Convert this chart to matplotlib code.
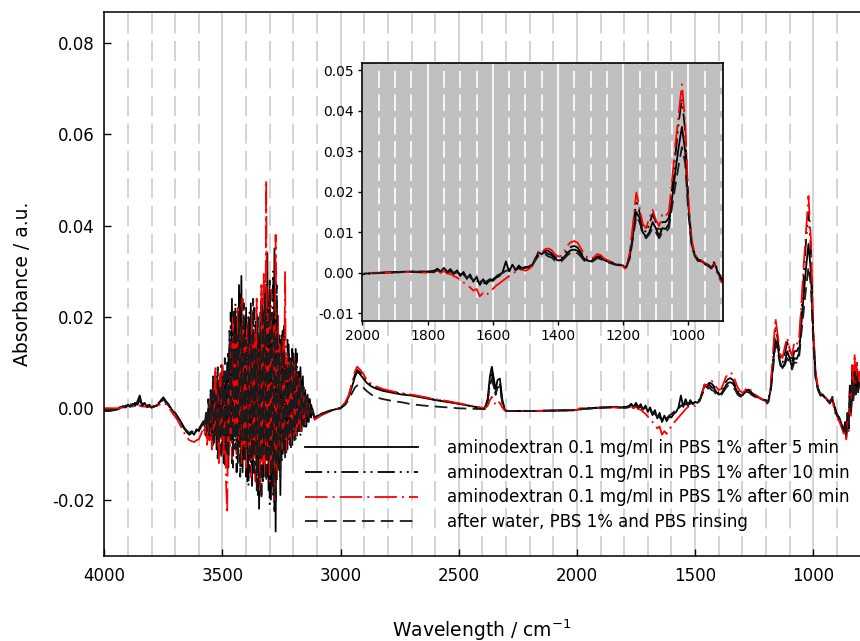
import matplotlib
matplotlib.use("Agg")
import matplotlib.pyplot as plt
from matplotlib.ticker import MultipleLocator, FormatStrFormatter
import numpy as np

plt.rcParams['font.family'] = 'DejaVu Sans'
plt.rcParams['axes.unicode_minus'] = False
plt.rcParams['mathtext.default'] = 'regular'

# ---- data (absorbance in units of 1e-3) ----
labels = ["aminodextran 0.1 mg/ml in PBS 1% after 5 min",
          "aminodextran 0.1 mg/ml in PBS 1% after 10 min",
          "aminodextran 0.1 mg/ml in PBS 1% after 60 min",
          "after water, PBS 1% and PBS rinsing"]

# 4000-3580 cm-1, every 10 cm-1
wn_a = np.arange(4000, 3579, -10)
a_5 = [-0.5, -0.5, -0.5, -0.5, -0.4, -0.3, -0.2, 0.2, 0.5, 0.3,
       0.8, 0.4, 1.0, 0.5, 1.5, 2.8, 0.6, 1.2, 0.3, 0.8,
       0.2, 0.5, 0.6, 1.0, 1.8, 2.4, 1.6, 1.0, 0.2, -0.6,
       -1.0, -1.8, -2.6, -3.5, -4.4, -5.0, -5.6, -5.2, -5.8, -4.6,
       -5.0, -4.0, -3.2]
a_10 = [-0.4, -0.4, -0.4, -0.4, -0.3, -0.2, 0.0, 0.4, 0.2, 0.6,
        0.3, 0.9, 0.2, 1.2, 0.8, 1.8, 0.9, 0.5, 1.0, 0.2,
        0.4, 0.3, 0.8, 1.2, 1.6, 2.0, 1.4, 0.8, 0.0, -0.8,
        -1.2, -2.0, -2.8, -3.8, -4.6, -5.3, -5.8, -5.4, -5.6, -5.0,
        -4.6, -3.8, -3.0]
a_60 = [0.0, 0.0, 0.0, 0.0, 0.0, 0.0, 0.0, 0.1, 0.2, 0.2,
        0.3, 0.3, 0.4, 0.3, 0.5, 0.6, 0.4, 0.4, 0.3, 0.3,
        0.3, 0.4, 0.5, 0.7, 1.0, 1.2, 0.9, 0.4, -0.4, -1.2,
        -1.8, -2.6, -3.6, -4.6, -5.6, -6.4, -7.0, -7.2, -7.4, -7.0,
        -6.8, -5.6, -4.2]
a_rin = [-0.6, -0.6, -0.6, -0.5, -0.4, -0.3, -0.1, 0.1, 0.4, 0.2,
         0.6, 0.3, 0.8, 0.4, 1.2, 2.0, 0.5, 0.9, 0.2, 0.6,
         0.1, 0.4, 0.5, 0.8, 1.4, 2.0, 1.3, 0.8, 0.0, -0.7,
         -1.1, -1.9, -2.7, -3.6, -4.4, -5.0, -5.4, -5.0, -5.4, -4.8,
         -4.6, -3.6, -2.8]

# 3575-3120 cm-1 (noisy water vapour region), every 5 cm-1
wn_n = np.arange(3575, 3119, -5)
n_5 = [-4, -2, -6, 0, -5, 2, -7, 6, -3, 8,
       -9, 4, -10, 7, -4, 9, -12, 5, -8, 10,
       -13, 14, -6, 24, -10, 18, -4, 20, -12, 27,
       -8, 29, -14, 12, -6, 22, -16, 17, -10, 23,
       -17, 15, -8, 19, -12, 14, -22, 21, -9, 24,
       -15, 18, -11, 34, -18, 26, -20, 12, -14, 35,
       -27, 22, -12, 16, -19, 13, -10, 18, -8, 11,
       -9, 14, -6, 9, -8, 12, -5, 13, -6, 8,
       -4, 9, -5, 7, -3, 4, -4, 3, -3, 2,
       -2, 0]
n_10 = [-3, -6, -1, -7, 1, -6, 4, -8, 5, -5,
        7, -11, 6, -6, 10, -9, 8, -13, 6, -10,
        12, -8, 21, -12, 16, -7, 23, -14, 19, -9,
        25, -13, 16, -11, 20, -15, 14, -17, 21, -12,
        18, -14, 22, -10, 17, -19, 15, -13, 26, -16,
        20, -12, 29, -15, 23, -21, 18, -17, 30, -23,
        25, -16, 20, -14, 15, -12, 17, -9, 12, -10,
        15, -7, 11, -9, 13, -6, 10, -7, 12, -5,
        8, -6, 6, -4, 5, -4, 3, -3, 2, -2,
        1, -1]
n_60 = [-6, -3, -8, -2, -7, 3, -9, 5, -6, 9,
        -4, 6, -12, 8, -7, 10, -10, 4, -16, -23,
        6, -9, 15, -11, 20, -5, 14, -10, 22, -7,
        18, -12, 24, -8, 16, -13, 19, -9, 14, -15,
        21, -11, 17, -16, 24, -10, 13, -18, 27, -12,
        30, -14, 50, -9, 22, -16, 26, -13, 18, -20,
        38, -15, 21, -11, 14, -9, 16, -7, 30, -10,
        12, -6, 10, -8, 9, -5, 11, -6, 8, -4,
        7, -5, 5, -3, 4, -3, 2, -2, 1, -1,
        0, -1]
n_rin = [-4, -1, -5, 2, -6, 4, -4, 7, -8, 3,
         -6, 9, -7, 5, -11, 7, -6, 11, -9, 8,
         -11, 17, -7, 13, -13, 22, -9, 16, -11, 21,
         -15, 18, -7, 23, -12, 15, -9, 20, -14, 16,
         -11, 24, -15, 13, -18, 20, -11, 16, -20, 22,
         -10, 25, -16, 19, -12, 28, -15, 21, -19, 17,
         -21, 27, -13, 12, -15, 16, -8, 13, -11, 10,
         -7, 12, -8, 11, -6, 9, -7, 10, -4, 7,
         -5, 6, -3, 5, -4, 3, -2, 2, -2, 1,
         -1, -1]

# 3110-2000 cm-1 (C-H stretch and CO2 band)
wn_b1 = [3110, 3080, 3050, 3020, 3000, 2980, 2965, 2950, 2940, 2930,
         2920, 2905, 2890, 2870, 2850, 2820, 2780, 2740, 2700, 2650,
         2600, 2550, 2500, 2450, 2410, 2390, 2378, 2368, 2360, 2352,
         2344, 2336, 2326, 2316, 2305, 2290, 2250, 2200, 2100, 2000]
b1_5 = [-2, -1.2, -0.6, -0.2, 0.0, 1.0, 2.6, 5.0, 6.8, 8.0,
        7.6, 6.6, 5.6, 4.8, 4.3, 3.8, 3.4, 3.0, 2.8, 2.3,
        1.8, 1.4, 1.0, 0.5, 0.1, 0.0, 2.0, 7.0, 9.1, 6.5,
        4.0, 6.2, 6.5, 2.0, -0.4, -0.6, -0.6, -0.6, -0.5, -0.4]
b1_10 = [-2, -1.2, -0.6, -0.2, 0.1, 1.2, 2.8, 5.5, 7.3, 8.4,
         8.0, 7.0, 5.9, 5.0, 4.5, 4.0, 3.6, 3.2, 2.9, 2.4,
         1.9, 1.5, 1.0, 0.5, 0.1, 0.0, 1.5, 5.5, 7.5, 5.0,
         3.0, 5.2, 5.5, 1.5, -0.4, -0.6, -0.6, -0.6, -0.5, -0.4]
b1_60 = [-2.5, -1.5, -0.8, -0.2, 0.1, 1.3, 3.0, 6.0, 8.0, 9.1,
         8.6, 7.6, 6.3, 5.3, 4.8, 4.2, 3.7, 3.3, 3.0, 2.5,
         2.0, 1.6, 1.1, 0.6, 0.2, 0.0, 0.5, 1.8, 2.5, 1.5,
         0.8, 1.5, 1.2, 0.2, -0.5, -0.6, -0.6, -0.6, -0.5, -0.4]
b1_rin = [-2, -1.2, -0.6, -0.2, 0.0, 0.8, 2.0, 3.5, 4.5, 5.0,
          5.2, 4.6, 3.8, 3.0, 2.4, 2.0, 1.6, 1.3, 0.9, 0.6,
          0.4, 0.2, 0.0, -0.1, -0.2, -0.2, 1.5, 5.0, 6.5, 4.8,
          3.0, 4.5, 4.8, 1.2, -0.5, -0.6, -0.6, -0.6, -0.5, -0.4]

# 1990-800 cm-1 (fingerprint region)
wn_b2 = [1990, 1950, 1900, 1850, 1800,
         1780, 1770, 1760, 1750, 1740, 1730, 1720, 1710, 1700,
         1690, 1680, 1670, 1660, 1650, 1640, 1630, 1620, 1610, 1600,
         1590, 1580, 1570, 1560, 1550, 1540, 1530, 1520, 1510, 1500,
         1490, 1480, 1470, 1460, 1450, 1440, 1430, 1420, 1410, 1400,
         1390, 1380, 1370, 1360, 1350, 1340, 1330, 1320, 1310, 1300,
         1290, 1280, 1270, 1260, 1250, 1240, 1230, 1220, 1210, 1200,
         1195, 1190,
         1180, 1170, 1160, 1150, 1140, 1130, 1120, 1110, 1100,
         1090, 1080, 1070, 1060, 1050, 1040, 1030, 1020, 1010, 1000,
         990, 980, 970, 960, 950, 940, 930, 920, 910, 900,
         890, 880, 870,
         865, 860, 855, 850, 845, 840, 835, 830, 825, 820, 815, 810, 805, 800]
b2_5 = [-0.2, 0.0, 0.2, 0.3, 0.2,
        0.5, 1.0, 0.3, 1.2, 0.2, 0.9, -0.3, 0.6, -0.8,
        0.2, -1.5, -0.4, -2.2, -1.0, -3.0, -1.6, -2.8, -1.8, -2.0,
        -1.2, -0.8, 0.2, 2.8, 0.3, 2.0, 0.6, 1.8, 0.9, 1.4,
        1.2, 1.8, 3.5, 5.0, 4.6, 5.2, 4.6, 4.4, 3.6, 3.0,
        3.2, 4.0, 5.0, 5.6, 5.7, 5.4, 4.6, 3.5, 3.0, 2.8,
        3.4, 4.0, 3.8, 3.2, 2.8, 2.6, 2.3, 2.0, 1.9, 1.8,
        1.2, 1.6,
        4.0, 9.5, 15.0, 13.5, 10.0, 8.8, 10.0, 12.5, 11.0,
        9.0, 11.0, 10.8, 12.0, 18.5, 25.0, 31.0, 36.0, 30.0, 16.0,
        7.0, 4.2, 3.0, 2.8, 2.3, 1.9, 1.2, 2.4, 0.2, -1.5,
        -2.0, -3.5, -4.8,
        -3.0, -6.2, -1.5, -4.5, 4.0, -1.0, 7.0, 2.0, 9.0, 3.5, 7.5, 4.0, 6.5, 5.0]
b2_10 = [-0.3, 0.0, 0.1, 0.3, 0.3,
         0.3, 0.8, 0.1, 0.9, 0.4, 0.5, 0.0, 0.3, -0.4,
         -0.3, -1.0, -1.2, -1.8, -2.0, -2.4, -2.6, -2.4, -2.0, -1.6,
         -1.0, -0.5, 0.0, 0.6, 0.8, 1.0, 1.0, 1.2, 1.2, 1.4,
         1.5, 2.0, 3.5, 5.2, 5.0, 5.6, 5.4, 4.8, 3.9, 3.4,
         3.5, 4.6, 5.8, 6.4, 6.6, 6.2, 5.0, 3.8, 3.2, 3.0,
         3.6, 4.2, 4.0, 3.4, 3.0, 2.7, 2.4, 2.1, 2.0, 1.9,
         1.4, 1.7,
         4.5, 11.0, 18.0, 15.0, 11.0, 10.0, 12.0, 14.5, 12.5,
         10.0, 12.5, 12.5, 13.5, 21.0, 29.0, 37.0, 43.0, 35.0, 17.0,
         7.5, 4.5, 3.2, 3.0, 2.4, 2.0, 1.4, 2.8, 0.4, -1.2,
         -2.2, -3.8, -5.5,
         -3.5, -6.0, -2.0, -4.0, 5.0, -0.5, 8.0, 2.5, 10.0, 4.0, 8.5, 4.5, 7.0, 5.5]
b2_60 = [0.0, 0.0, 0.1, 0.2, 0.0,
         0.1, 0.3, 0.0, 0.4, -0.2, -0.3, -0.8, -1.2, -1.8,
         -2.4, -3.0, -3.6, -4.4, -4.0, -5.8, -5.0, -5.6, -4.6, -4.0,
         -3.2, -2.6, -2.0, -1.4, -0.8, -0.2, 0.3, 0.6, 0.8, 0.5,
         0.9, 1.6, 3.2, 5.2, 5.0, 5.8, 6.0, 5.6, 4.6, 4.0,
         4.2, 5.4, 6.8, 7.6, 7.8, 7.4, 6.0, 4.6, 3.8, 3.4,
         3.8, 4.6, 4.4, 3.6, 3.2, 2.8, 2.4, 2.0, 1.8, 1.6,
         1.0, 1.3,
         5.0, 12.0, 19.8, 16.0, 12.0, 11.0, 13.5, 15.5, 13.0,
         11.5, 14.5, 14.0, 15.0, 23.0, 31.5, 39.0, 46.5, 37.0, 17.5,
         8.0, 4.6, 3.4, 3.0, 2.4, 1.8, 1.0, 2.2, -0.6, -2.2,
         -2.8, -4.2, -5.6,
         -4.0, -6.8, -3.0, -5.0, 3.5, -2.0, 9.5, 4.0, 12.0, 5.0, 10.0, 6.0, 8.0, 3.5]
b2_rin = [-0.2, -0.1, 0.1, 0.2, 0.1,
          0.2, 0.6, 0.2, 0.5, 0.1, 0.3, -0.2, 0.1, -0.5,
          -0.6, -1.2, -1.0, -1.8, -1.6, -2.2, -2.0, -2.2, -1.6, -1.3,
          -0.8, -0.4, 0.0, 0.5, 0.6, 0.9, 0.8, 1.0, 1.0, 1.2,
          1.2, 1.8, 3.0, 4.2, 4.0, 4.6, 4.0, 3.8, 3.0, 2.6,
          2.8, 3.6, 4.4, 5.0, 5.1, 4.8, 4.0, 3.0, 2.6, 2.5,
          3.0, 3.6, 3.4, 2.9, 2.6, 2.4, 2.1, 1.9, 1.8, 1.7,
          1.2, 1.5,
          3.5, 8.5, 14.0, 12.5, 9.5, 8.5, 9.5, 11.0, 10.0,
          8.5, 10.0, 10.0, 11.0, 16.5, 21.5, 26.5, 31.0, 27.0, 14.5,
          6.5, 4.0, 2.8, 2.6, 2.1, 1.7, 1.1, 2.0, 0.0, -1.6,
          -2.2, -3.6, -5.0,
          -3.2, -5.5, -1.0, -3.8, 3.0, -1.5, 6.0, 1.5, 8.0, 3.0, 7.0, 3.5, 6.0, 4.5]

wn = np.concatenate([wn_a, wn_n, wn_b1, wn_b2])
spectra = [np.concatenate([a_5, n_5, b1_5, b2_5]) * 1e-3,
           np.concatenate([a_10, n_10, b1_10, b2_10]) * 1e-3,
           np.concatenate([a_60, n_60, b1_60, b2_60]) * 1e-3,
           np.concatenate([a_rin, n_rin, b1_rin, b2_rin]) * 1e-3]

# dash patterns are scaled by the line width (1.3)
styles = [dict(color='black', ls='-'),
          dict(color='black', dashes=(9.5, 2.8, 1.1, 2.8, 1.1, 2.8)),
          dict(color='red', dashes=(12.5, 2.8, 1.1, 2.8)),
          dict(color='#1a1a1a', dashes=(7, 3.5))]

# ---- figure ----
fig = plt.figure(figsize=(8.6, 6.41), dpi=100)
ax = fig.add_axes([0.1213, 0.1326, 0.8787, 0.8482])

lines = []
for y, st, lab in zip(spectra, styles, labels):
    ln, = ax.plot(wn, y, lw=1.3, label=lab, **st)
    lines.append(ln)

ax.set_xlim(4000, 802)
ax.set_ylim(-0.03236, 0.08675)
ax.xaxis.set_major_locator(MultipleLocator(500))
ax.xaxis.set_minor_locator(MultipleLocator(100))
ax.yaxis.set_major_locator(MultipleLocator(0.02))
ax.yaxis.set_major_formatter(FormatStrFormatter('%.2f'))
ax.grid(axis='x', which='major', color='#cccccc', lw=1.2, ls='-')
ax.grid(axis='x', which='minor', color='#cccccc', lw=1.2, ls=(0, (12, 4.5)))
ax.tick_params(which='major', direction='in', length=5, width=1, labelsize=12,
               top=False, right=False)
ax.tick_params(axis='x', which='major', pad=8)
ax.tick_params(axis='y', which='major', pad=7)
ax.tick_params(which='minor', length=0)
ax.spines['right'].set_visible(False)
for s in ['left', 'bottom', 'top']:
    ax.spines[s].set_linewidth(1.1)

ax.set_xlabel('Wavelength / cm$^{-1}$', fontsize=13.5, labelpad=23)
ax.set_ylabel('Absorbance / a.u.', fontsize=13.5, labelpad=14)

ax.legend(handles=lines, loc='upper left', bbox_to_anchor=(305 / 860, 1 - 439 / 641),
          bbox_transform=fig.transFigure, frameon=False, fontsize=12,
          handlelength=6.8, handletextpad=1.7, labelspacing=0.4,
          borderpad=0, borderaxespad=0)

# ---- inset: fingerprint region ----
axin = fig.add_axes([0.4215, 0.4992, 0.4188, 0.4020], facecolor='#c0c0c0')
for y, st in zip(spectra, styles):
    axin.plot(wn, y, lw=1.3, **st)
axin.set_xlim(2000, 895)
axin.set_ylim(-0.0119, 0.05165)
axin.xaxis.set_major_locator(MultipleLocator(200))
axin.xaxis.set_minor_locator(MultipleLocator(50))
axin.yaxis.set_major_locator(MultipleLocator(0.01))
axin.yaxis.set_major_formatter(FormatStrFormatter('%.2f'))
axin.grid(axis='x', which='major', color='white', lw=1.2, ls='-')
axin.grid(axis='x', which='minor', color='white', lw=1.2, ls=(0, (10, 4)))
axin.tick_params(which='major', direction='out', length=3, width=1, labelsize=10, pad=3)
axin.tick_params(which='minor', length=0)
for s in axin.spines.values():
    s.set_linewidth(1.2)

fig.savefig('out.png', dpi=100)
